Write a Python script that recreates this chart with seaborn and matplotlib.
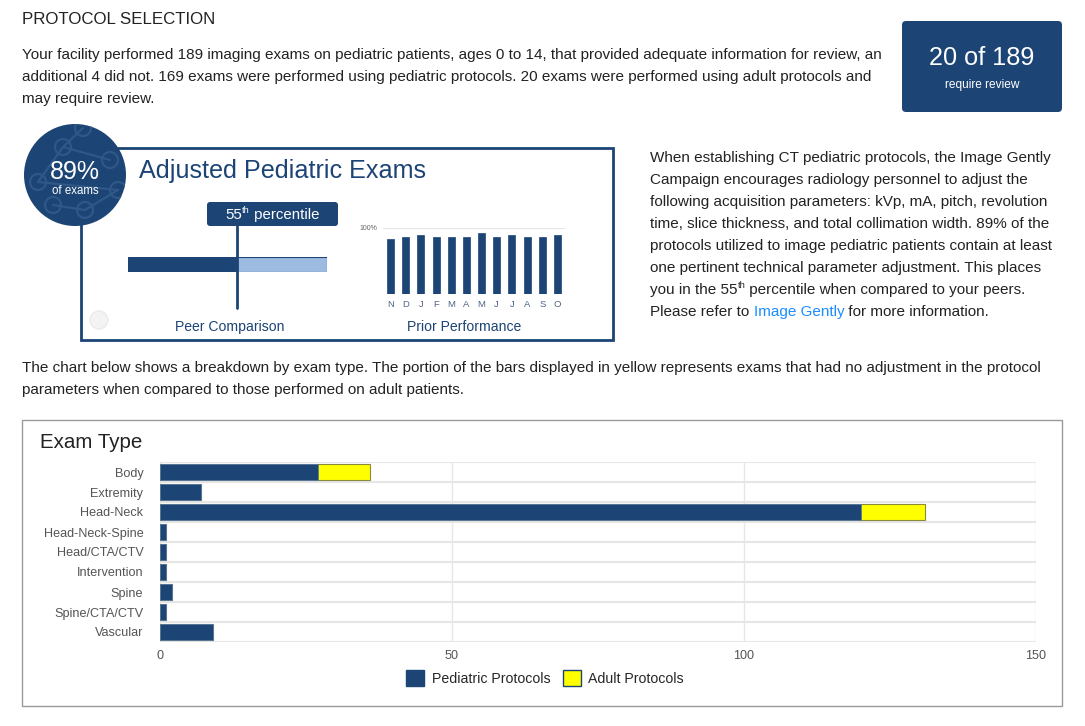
import matplotlib
matplotlib.use("Agg")
import matplotlib.pyplot as plt
from matplotlib.patches import Rectangle, Circle, FancyBboxPatch, Patch
import seaborn as sns
import pandas as pd

# data
exam_types = ["Body", "Extremity", "Head-Neck", "Head-Neck-Spine", "Head/CTA/CTV",
              "Intervention", "Spine", "Spine/CTA/CTV", "Vascular"]
pediatric = [27, 7, 120, 1, 1, 1, 2, 1, 9]
adult = [9, 0, 11, 0, 0, 0, 0, 0, 0]
months = ["N", "D", "J", "F", "M", "A", "M", "J", "J", "A", "S", "O"]
prior_pct = [83, 87, 89, 86, 86, 87, 92, 87, 89, 87, 87, 89]
peer_percentile = 55
adjusted_pct = 89
exams_review = 20
exams_total = 189

NAVY = "#1c4475"
LIGHT = "#9dbbe0"
YELLOW = "#ffff00"
TXT = "#222222"
GRAY = "#666666"
RING = "#2f5889"

sns.set_theme(style="white")
plt.rcParams["font.family"] = ["Liberation Sans", "DejaVu Sans"]

W, H = 1085, 726
fig = plt.figure(figsize=(W / 100, H / 100), dpi=100)
fig.patch.set_facecolor("white")
renderer = fig.canvas.get_renderer()

# overlay in pixel coordinates
ov = fig.add_axes([0, 0, 1, 1])
ov.set_xlim(0, W)
ov.set_ylim(H, 0)
ov.axis("off")
ov.set_zorder(0)


def px_axes(x0, y0, x1, y1):
    a = fig.add_axes([x0 / W, 1 - y1 / H, (x1 - x0) / W, (y1 - y0) / H])
    a.set_zorder(2)
    a.patch.set_alpha(0)
    return a


def runs(x, y, parts, fontsize, **kw):
    # parts: list of (text, color, superscript?)
    for text, color, sup in parts:
        size = fontsize * 0.62 if sup else fontsize
        yy = y - fontsize * 0.42 if sup else y
        t = ov.text(x, yy, text, fontsize=size, color=color, va="center", **kw)
        x += t.get_window_extent(renderer).width
    return x


fs = 10.95
ov.text(22, 19, "PROTOCOL SELECTION", fontsize=12.2, color=TXT, va="center")
top_lines = [
    "Your facility performed 189 imaging exams on pediatric patients, ages 0 to 14, that provided adequate information for review, an",
    "additional 4 did not. 169 exams were performed using pediatric protocols. 20 exams were performed using adult protocols and",
    "may require review.",
]
for i, t in enumerate(top_lines):
    ov.text(22, 55 + 22 * i, t, fontsize=fs, color=TXT, va="center")

# review box
ov.add_patch(FancyBboxPatch((902, 21), 160, 91, boxstyle="round,pad=0,rounding_size=4",
                            fc=NAVY, ec="none"))
ov.text(982, 58, f"{exams_review} of {exams_total}", fontsize=18.2, color="white",
        ha="center", va="center")
ov.text(982, 85, "require review", fontsize=8.6, color="white", ha="center", va="center")

# adjusted pediatric exams panel
ov.add_patch(Rectangle((81, 148), 532, 192, fc="none", ec=NAVY, lw=2))
badge = Circle((75, 175), 51, fc=NAVY, ec="none", zorder=3)
ov.add_patch(badge)
rings = [(83, 128), (63, 147), (110, 160), (38, 182), (118, 190), (53, 205), (85, 210)]
for cx, cy in rings:
    r = Circle((cx, cy), 8, fc="none", ec=RING, lw=1.6, zorder=3.5)
    ov.add_patch(r)
    r.set_clip_path(badge)
for a, b in [(1, 0), (1, 2), (3, 1), (3, 4), (4, 6), (5, 6)]:
    ln, = ov.plot([rings[a][0], rings[b][0]], [rings[a][1], rings[b][1]], color=RING,
                  lw=1.6, zorder=3.4)
    ln.set_clip_path(badge)
ov.text(75, 172, f"{adjusted_pct}%", fontsize=18, color="white", ha="center", va="center", zorder=4)
ov.text(75, 191, "of exams", fontsize=8.3, color="white", ha="center", va="center", zorder=4)
ov.text(139, 171, "Adjusted Pediatric Exams", fontsize=18.1, color=NAVY, va="center")

# faint logo mark
ov.add_patch(Circle((99, 320), 9, fc="#f3f3f3", ec="#e8e8e8", lw=0.8, zorder=1))

ov.add_patch(FancyBboxPatch((207, 202), 131, 24, boxstyle="round,pad=0,rounding_size=3",
                            fc=NAVY, ec="none"))
runs(225, 215, [("55", "white", False), ("th", "white", True), (" percentile", "white", False)],
     10.8, zorder=4)
ov.text(230, 327, "Peer Comparison", fontsize=10.1, color=NAVY, ha="center", va="center")
ov.text(464, 327, "Prior Performance", fontsize=10.1, color=NAVY, ha="center", va="center")

# peer comparison bar
pa = px_axes(128, 257, 327, 272)
pa.barh(0, peer_percentile, height=1, color=NAVY, edgecolor=NAVY, lw=0.8)
pa.barh(0, 100 - peer_percentile, left=peer_percentile, height=1, color=LIGHT,
        edgecolor=NAVY, lw=0.8)
pa.axvline(peer_percentile, ymin=-2.4, ymax=3.07, color=NAVY, lw=2, clip_on=False)
pa.set_xlim(0, 100)
pa.set_ylim(-0.5, 0.5)
pa.axis("off")

# prior performance
pp = px_axes(383, 228, 565, 294)
prior_df = pd.DataFrame({"month": range(len(months)), "pct": prior_pct})
sns.barplot(data=prior_df, x="month", y="pct", color=NAVY, saturation=1, width=0.46,
            edgecolor=NAVY, linewidth=0.5, ax=pp, order=range(len(months)))
pp.set_ylim(0, 100)
pp.set_xlim(-0.5, len(months) - 0.5)
pp.axhline(100, color="#e6e6e6", lw=1.5, zorder=0)
pp.set_xticks(range(len(months)))
pp.set_xticklabels(months, fontsize=6.8, color="#4f6384")
pp.set_yticks([100])
pp.set_yticklabels(["100%"], fontsize=5, color=GRAY)
pp.tick_params(length=0, pad=4)
pp.set_xlabel("")
pp.set_ylabel("")
for s in pp.spines.values():
    s.set_visible(False)

# right paragraph
right_lines = [
    "When establishing CT pediatric protocols, the Image Gently",
    "Campaign encourages radiology personnel to adjust the",
    "following acquisition parameters: kVp, mA, pitch, revolution",
    "time, slice thickness, and total collimation width. 89% of the",
    "protocols utilized to image pediatric patients contain at least",
    "one pertinent technical parameter adjustment. This places",
]
for i, t in enumerate(right_lines):
    ov.text(650, 158 + 22 * i, t, fontsize=fs, color=TXT, va="center")
runs(650, 290, [("you in the 55", TXT, False), ("th", TXT, True),
                (" percentile when compared to your peers.", TXT, False)], fs)
runs(650, 312, [("Please refer to ", TXT, False), ("Image Gently", "#1a8cff", False),
                (" for more information.", TXT, False)], fs)

mid_lines = [
    "The chart below shows a breakdown by exam type. The portion of the bars displayed in yellow represents exams that had no adjustment in the protocol",
    "parameters when compared to those performed on adult patients.",
]
for i, t in enumerate(mid_lines):
    ov.text(22, 368 + 22 * i, t, fontsize=fs, color=TXT, va="center")

# exam type chart
ov.add_patch(Rectangle((22, 420), 1040, 286, fc="none", ec="#9a9a9a", lw=1))
ov.text(40, 442, "Exam Type", fontsize=14.8, color=TXT, va="center")

ea = px_axes(160, 462, 1036, 642)
df = pd.DataFrame({"exam": exam_types, "pediatric": pediatric, "adult": adult})
df["total"] = df["pediatric"] + df["adult"]
sns.barplot(data=df, y="exam", x="total", color=YELLOW, saturation=1, width=0.8,
            edgecolor="#8a8a3a", linewidth=0.8, ax=ea, order=exam_types)
sns.barplot(data=df, y="exam", x="pediatric", color=NAVY, saturation=1, width=0.8,
            edgecolor="#5b7aa3", linewidth=0.6, ax=ea, order=exam_types)
ea.set_xlim(0, 150)
ea.set_ylim(len(exam_types) - 0.5, -0.5)
ea.set_xticks([0, 50, 100, 150])
ea.set_yticks([i + 0.5 for i in range(-1, len(exam_types))], minor=True)
ea.grid(True, axis="x", which="major", color="#e6e6e6", lw=1)
ea.grid(True, axis="y", which="minor", color="#e6e6e6", lw=1.5)
ea.set_axisbelow(True)
ea.tick_params(axis="both", which="both", length=0, labelsize=9.1, colors="#555555")
ea.tick_params(axis="x", pad=6)
ea.tick_params(axis="y", pad=12)
ea.set_xlabel("")
ea.set_ylabel("")
for s in ea.spines.values():
    s.set_visible(False)

handles = [Patch(fc=NAVY, ec=NAVY, label="Pediatric Protocols"),
           Patch(fc=YELLOW, ec=NAVY, label="Adult Protocols")]
fig.legend(handles=handles, loc="center", bbox_to_anchor=(545 / W, 1 - 678 / H), ncol=2,
           frameon=False, fontsize=10.2, handlelength=1.3, handleheight=1.3,
           handletextpad=0.5, columnspacing=0.9)

fig.savefig("out.png", dpi=100)
